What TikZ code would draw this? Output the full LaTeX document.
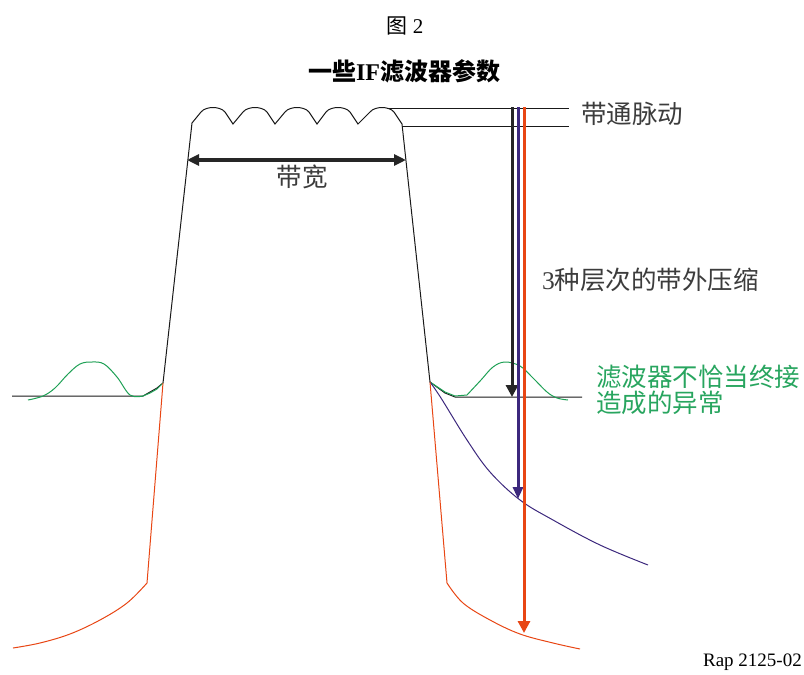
\documentclass[tikz,border=0pt]{standalone}
\usepackage{fontspec}
\setmainfont{Liberation Serif}
\newfontfamily\cjk{Noto Sans CJK SC}
\usetikzlibrary{arrows.meta}
\definecolor{fgreen}{RGB}{30,160,85}
\definecolor{tgreen}{RGB}{40,165,95}
\definecolor{fpurple}{RGB}{60,40,125}
\definecolor{forange}{RGB}{232,70,20}
\definecolor{tgray}{RGB}{60,60,60}
\tikzset{
  lbl/.style={inner sep=0pt, font=\cjk\fontsize{25.5}{25.5}\selectfont, text=tgray},
  skirt/.style={line width=1pt, black!90},
  greencurve/.style={line width=1pt, fgreen},
  orangecurve/.style={line width=1pt, forange},
  purplecurve/.style={line width=1pt, fpurple},
  levelarrow/.style={line width=3pt, -{Triangle[width=12pt,length=12pt]}},
}
\begin{document}
\begin{tikzpicture}[x=1pt,y=-1pt]
\useasboundingbox (0,0) rectangle (804,675);
% titles
\node[inner sep=0pt] (fig) at (405,26) {\fontsize{21}{21}\selectfont{\cjk 图} 2};
\node[inner sep=0pt] (title) at (404,71) {\fontsize{24}{24}\selectfont\bfseries{\cjk 一些}IF{\cjk 滤波器参数}};
% passband ripple
\coordinate (tl) at (192,123);
\coordinate (tr) at (402,124);
\draw[skirt] (tl) -- (201,112) .. controls (206,106) and (220,106) .. (225,112) -- (233,124)
  -- (243,112) .. controls (248,106) and (262,106) .. (267,112) -- (275,124)
  -- (285,112) .. controls (290,106) and (304,106) .. (309,112) -- (317,124)
  -- (326,112) .. controls (331,106) and (345,106) .. (350,112) -- (358,124)
  -- (370,112) .. controls (375,106) and (389,106) .. (394,112) -- (tr);
% skirts
\coordinate (bl) at (163,383);
\coordinate (br) at (430,382);
\draw[skirt] (tl) -- (bl);
\draw[skirt] (tr) -- (br);
% ripple reference lines
\coordinate (r1a) at (387,108);
\coordinate (r1b) at (569,108);
\coordinate (r2a) at (403,126);
\coordinate (r2b) at (569,126);
\draw[skirt] (r1a) -- (r1b);
\draw[skirt] (r2a) -- (r2b);
\node[lbl, anchor=west] (ripple) at (581,114) {带通脉动};
% bandwidth arrow
\coordinate (bwl) at (187,160);
\coordinate (bwr) at (406,160);
\draw[line width=3.5pt, black!85, {Triangle[width=11pt,length=12pt]}-{Triangle[width=11pt,length=12pt]}] (bwl) -- (bwr);
\node[lbl] (bw) at (302,177) {带宽};
% baselines
\draw[skirt] (12,396) -- (143,396) -- (150,392) -- (157,388) -- (bl);
\draw[skirt] (br) -- (445,393) -- (455,397) -- (582,397);
% green bumps
\draw[greencurve] plot[smooth, tension=0.6] coordinates {(28,400) (43,396) (55,388) (68,374) (80,364) (92,362) (104,364) (117,377) (130,395) (143,396)}
  -- (150,393) -- (157,389) -- (bl);
\draw[greencurve] (br) -- (445,392) -- (455,396) -- (467,395)
  plot[smooth, tension=0.6] coordinates {(467,395) (481,380) (493,367) (505,362) (520,366) (533,378) (547,392) (557,398) (568,400)};
% purple curve
\draw[purplecurve] plot[smooth, tension=0.6] coordinates {(br) (441,398) (467,440) (490,472) (520,500) (553,520) (600,545) (648,565)};
% orange curves
\coordinate (olc) at (147,583);
\coordinate (orc) at (447,583);
\draw[orangecurve] (bl) -- (olc) plot[smooth, tension=0.6] coordinates {(olc) (127,603) (100,620) (70,634) (40,643) (13,648)};
\draw[orangecurve] (br) -- (orc) plot[smooth, tension=0.6] coordinates {(orc) (463,603) (490,620) (520,634) (553,643) (580,649)};
% level arrows
\coordinate (a1s) at (512,107);
\coordinate (a1e) at (512,397);
\coordinate (a2s) at (518,107);
\coordinate (a2e) at (518,499);
\coordinate (a3s) at (524,107);
\coordinate (a3e) at (524,633);
\draw[levelarrow, black!85] (a1s) -- (a1e);
\draw[levelarrow, fpurple, -{Triangle[width=10pt,length=12pt]}] (a2s) -- (a2e);
\draw[levelarrow, forange] (a3s) -- (a3e);
% labels
\node[lbl, anchor=west] (rej) at (542,280) {{\fontspec{Liberation Serif}3}种层次的带外压缩};
\node[lbl, anchor=north west, text=tgreen, align=left] (term) at (596,365) {滤波器不恰当终接\\造成的异常};
\node[inner sep=0pt, anchor=east, font=\fontsize{19}{19}\selectfont] (rap) at (802,662) {Rap 2125-02};
\end{tikzpicture}
\end{document}
